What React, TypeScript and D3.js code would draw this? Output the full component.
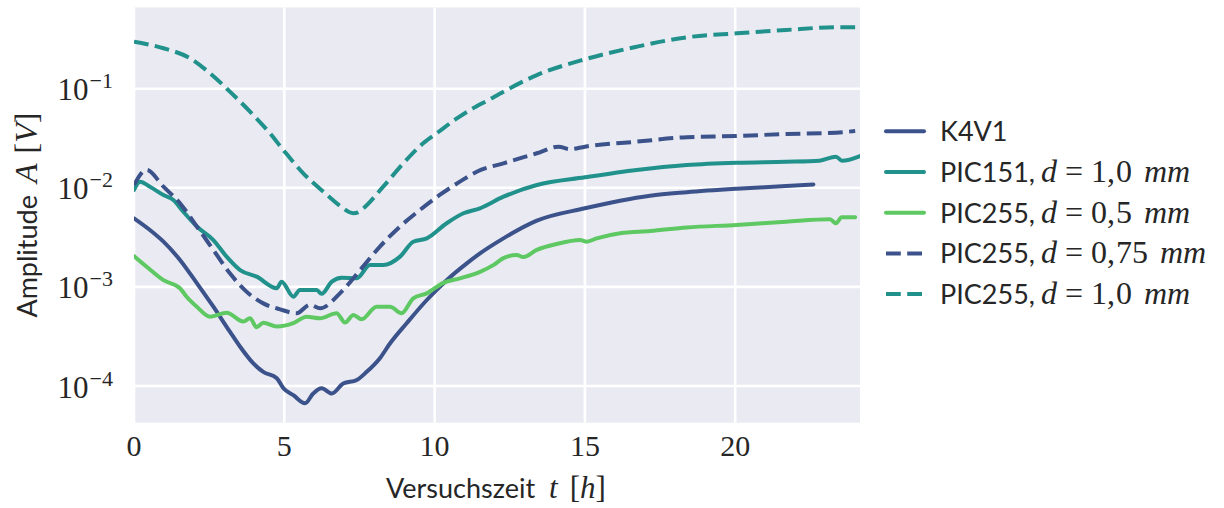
import React from "react";
import * as d3 from "d3";

// ---- data (t in hours, amplitude in V) ----
const k4v1T = [0, 0.53, 0.98, 1.53, 2.09, 2.64, 3.19, 3.53, 3.97, 4.3, 4.75, 4.97, 5.3, 5.69, 5.96, 6.24, 6.58, 6.96, 7.41, 7.74, 8.18, 8.52, 9.07, 9.74, 10.4, 11.07, 11.51, 12.29, 13.4, 15.0, 16.17, 17.17, 18.39, 20.05, 21.69, 22.6];
const k4v1A = [4.92e-3, 3.75e-3, 2.86e-3, 1.87e-3, 1.09e-3, 6.31e-4, 3.53e-4, 2.49e-4, 1.69e-4, 1.39e-4, 1.2e-4, 9.5e-5, 8.1e-5, 6.7e-5, 8.4e-5, 9.5e-5, 8.4e-5, 1.06e-4, 1.15e-4, 1.39e-4, 1.91e-4, 2.7e-4, 4.3e-4, 7.38e-4, 1.17e-3, 1.73e-3, 2.18e-3, 3.09e-3, 4.66e-3, 6.21e-3, 7.41e-3, 8.32e-3, 9.02e-3, 9.77e-3, 1.04e-2, 1.08e-2];

const pic151T = [0, 0.2, 0.53, 0.98, 1.31, 1.64, 2.09, 2.64, 3.08, 3.53, 4.08, 4.75, 4.91, 5.3, 5.52, 6.08, 6.24, 6.58, 6.91, 7.41, 7.85, 8.29, 8.85, 9.29, 9.74, 10.4, 10.96, 11.51, 12.29, 13.4, 15.0, 16.72, 18.39, 20.05, 21.69, 22.8, 23.35, 23.55, 24.15];
const pic151A = [9.51e-3, 1.153e-2, 1.026e-2, 8.45e-3, 7.53e-3, 5.74e-3, 4.07e-3, 2.97e-3, 2.02e-3, 1.48e-3, 1.27e-3, 9.7e-4, 1.13e-3, 7.96e-4, 9.31e-4, 9.31e-4, 8.51e-4, 1.13e-3, 1.24e-3, 1.22e-3, 1.66e-3, 1.66e-3, 2.02e-3, 2.86e-3, 3.09e-3, 4.39e-3, 5.53e-3, 6.21e-3, 8.13e-3, 1.067e-2, 1.276e-2, 1.514e-2, 1.698e-2, 1.791e-2, 1.832e-2, 1.875e-2, 2.06e-2, 1.875e-2, 2.09e-2];

const pic255_05T = [0, 0.42, 0.98, 1.53, 1.75, 2.09, 2.53, 3.08, 3.64, 3.86, 4.08, 4.3, 4.75, 5.3, 5.74, 6.19, 6.74, 7.02, 7.3, 7.57, 8.07, 8.52, 8.9, 9.29, 9.74, 10.29, 10.84, 11.51, 11.95, 12.29, 12.73, 12.95, 13.4, 14.06, 14.84, 15.06, 15.39, 16.17, 17.17, 18.39, 20.05, 21.69, 23.15, 23.35, 23.54, 23.99];
const pic255_05A = [2.05e-3, 1.6e-3, 1.17e-3, 9.7e-4, 7.96e-4, 6.31e-4, 5.01e-4, 5.5e-4, 4.47e-4, 4.82e-4, 3.91e-4, 4.36e-4, 3.98e-4, 4.3e-4, 5.01e-4, 4.82e-4, 5.42e-4, 4.37e-4, 5.21e-4, 4.71e-4, 6.31e-4, 6.31e-4, 5.42e-4, 7.67e-4, 8.61e-4, 1.1e-3, 1.22e-3, 1.42e-3, 1.66e-3, 1.95e-3, 2.1e-3, 2.0e-3, 2.36e-3, 2.71e-3, 2.97e-3, 2.86e-3, 3.09e-3, 3.48e-3, 3.66e-3, 3.98e-3, 4.22e-3, 4.55e-3, 4.81e-3, 4.39e-3, 5.04e-3, 5.04e-3];

const pic255_075T = [0, 0.42, 0.98, 1.53, 2.09, 2.64, 3.19, 3.75, 4.3, 4.86, 5.41, 5.85, 6.19, 6.85, 7.52, 8.18, 8.85, 9.51, 10.18, 10.84, 11.4, 12.29, 13.4, 14.12, 14.5, 15.0, 16.72, 18.39, 20.05, 21.69, 23.35, 23.99];
const pic255_075A = [1.067e-2, 1.514e-2, 1.026e-2, 6.98e-3, 4.07e-3, 2.36e-3, 1.37e-3, 8.91e-4, 6.82e-4, 5.94e-4, 5.42e-4, 6.61e-4, 6.08e-4, 8.61e-4, 1.48e-3, 2.55e-3, 4.07e-3, 5.97e-3, 8.51e-3, 1.153e-2, 1.452e-2, 1.766e-2, 2.23e-2, 2.6e-2, 2.45e-2, 2.6e-2, 2.92e-2, 3.24e-2, 3.33e-2, 3.49e-2, 3.6e-2, 3.74e-2];

const pic255_10T = [0, 0.98, 1.86, 2.53, 3.19, 3.86, 4.52, 4.97, 5.63, 6.3, 6.96, 7.15, 7.3, 7.45, 7.63, 8.29, 8.96, 9.62, 10.07, 10.74, 11.18, 11.79, 12.29, 13.4, 15.0, 16.72, 18.39, 20.05, 21.69, 23.38, 24.15];
const pic255_10A = [0.298, 0.256, 0.203, 0.143, 9.33e-2, 5.86e-2, 3.55e-2, 2.4e-2, 1.4e-2, 9.12e-3, 6.21e-3, 5.7e-3, 5.53e-3, 5.65e-3, 6.21e-3, 1.026e-2, 1.766e-2, 2.81e-2, 3.55e-2, 5.02e-2, 6.1e-2, 7.69e-2, 9.33e-2, 0.137, 0.198, 0.265, 0.33, 0.362, 0.391, 0.417, 0.417];

const xTicks = [0, 5, 10, 15, 20];
const yTickExps = [-1, -2, -3, -4];

const seriesNames = ["K4V1", "PIC151, d = 1,0 mm", "PIC255, d = 0,5 mm", "PIC255, d = 0,75 mm", "PIC255, d = 1,0 mm"];

const C_BLUE = "#3b528b";
const C_TEAL = "#21918c";
const C_GREEN = "#5ec962";

const series = [
  { t: k4v1T, a: k4v1A, color: C_BLUE, dash: false, prefix: "K4V1", d: "" },
  { t: pic151T, a: pic151A, color: C_TEAL, dash: false, prefix: "PIC151,", d: "1,0" },
  { t: pic255_05T, a: pic255_05A, color: C_GREEN, dash: false, prefix: "PIC255,", d: "0,5" },
  { t: pic255_075T, a: pic255_075A, color: C_BLUE, dash: true, prefix: "PIC255,", d: "0,75" },
  { t: pic255_10T, a: pic255_10A, color: C_TEAL, dash: true, prefix: "PIC255,", d: "1,0" },
];

const W = 1224;
const H = 508;
const PL = 134, PR = 860, PT = 7.5, PB = 422.7;

const SANS = "Lato, 'Noto Sans', sans-serif";
const SERIF = "'Liberation Serif', 'DejaVu Serif', serif";
const INK = "#262626";

export default function App() {
  const x = d3.scaleLinear().domain([0, 24.15]).range([PL, PR]);
  const y = d3.scaleLog().domain([Math.pow(10, -4.37), Math.pow(10, -0.181)]).range([PB, PT]);

  const line = d3
    .line<[number, number]>()
    .x((d) => x(d[0]))
    .y((d) => y(d[1]))
    .curve(d3.curveMonotoneX);

  const legendY0 = 131.3;
  const legendStep = 40.7;

  return (
    <svg width={W} height={H} style={{ position: "absolute", left: 0, top: 0, background: "#fff" }}>
      <defs>
        <clipPath id="plotclip">
          <rect x={PL} y={PT} width={PR - PL} height={PB - PT} />
        </clipPath>
      </defs>
      <rect x={PL} y={PT} width={PR - PL} height={PB - PT} fill="#eaeaf2" />
      {xTicks.map((t) => (
        <line key={"gx" + t} x1={x(t)} x2={x(t)} y1={PT} y2={PB} stroke="#fff" strokeWidth={2.6} />
      ))}
      {yTickExps.map((e) => (
        <line key={"gy" + e} x1={PL} x2={PR} y1={y(Math.pow(10, e))} y2={y(Math.pow(10, e))} stroke="#fff" strokeWidth={2.6} />
      ))}
      <g clipPath="url(#plotclip)">
        {series.map((s, i) => (
          <path
            key={i}
            d={line(s.t.map((t, j) => [t, s.a[j]] as [number, number])) || ""}
            fill="none"
            stroke={s.color}
            strokeWidth={4}
            strokeDasharray={s.dash ? "14.8 6.4" : undefined}
            strokeLinejoin="round"
            strokeLinecap={s.dash ? "butt" : "round"}
          />
        ))}
      </g>
      {xTicks.map((t) => (
        <text key={"tx" + t} x={x(t)} y={456} textAnchor="middle" fontFamily={SERIF} fontSize={30} fill={INK}>
          {t}
        </text>
      ))}
      {yTickExps.map((e) => (
        <text key={"ty" + e} x={113} y={y(Math.pow(10, e)) + 11.5} textAnchor="end" fontFamily={SERIF} fill={INK}>
          <tspan fontSize={31}>10</tspan>
          <tspan fontSize={22} dy={-12} dx={1}>{"\u2212" + Math.abs(e)}</tspan>
        </text>
      ))}
      <text x={496} y={498} textAnchor="middle" fill={INK} style={{ whiteSpace: "pre" }}>
        <tspan fontFamily={SANS} fontSize={27}>Versuchszeit</tspan>
        <tspan fontFamily={SERIF} fontSize={31} fontStyle="italic" dx={14}>t</tspan>
        <tspan fontFamily={SERIF} fontSize={31} dx={12}>[</tspan>
        <tspan fontFamily={SERIF} fontSize={31} fontStyle="italic">h</tspan>
        <tspan fontFamily={SERIF} fontSize={31}>]</tspan>
      </text>
      <text transform={`translate(37,${(PT + PB) / 2}) rotate(-90)`} textAnchor="middle" fill={INK} style={{ whiteSpace: "pre" }}>
        <tspan fontFamily={SANS} fontSize={27}>Amplitude</tspan>
        <tspan fontFamily={SERIF} fontSize={32} fontStyle="italic" dx={12}>A</tspan>
        <tspan fontFamily={SERIF} fontSize={32} dx={10}>[</tspan>
        <tspan fontFamily={SERIF} fontSize={32} fontStyle="italic">V</tspan>
        <tspan fontFamily={SERIF} fontSize={32}>]</tspan>
      </text>
      {series.map((s, i) => {
        const ly = legendY0 + i * legendStep;
        return (
          <g key={"lg" + i} aria-label={seriesNames[i]}>
            <line
              x1={886}
              x2={924}
              y1={ly}
              y2={ly}
              stroke={s.color}
              strokeWidth={4}
              strokeDasharray={s.dash ? "14.8 6.4" : undefined}
              strokeLinecap={s.dash ? "butt" : "round"}
            />
            <text x={940} y={ly + 10} fill={INK} style={{ whiteSpace: "pre" }}>
              <tspan fontFamily={SANS} fontSize={27}>{s.prefix}</tspan>
              {s.d ? (
                <>
                  <tspan fontFamily={SERIF} fontSize={32} fontStyle="italic" dx={6}>d</tspan>
                  <tspan fontFamily={SERIF} fontSize={32} dx={8}>=</tspan>
                  <tspan fontFamily={SERIF} fontSize={32} dx={8}>{s.d.split(",")[0] + ","}</tspan>
                  <tspan fontFamily={SERIF} fontSize={32} dx={1}>{s.d.split(",")[1]}</tspan>
                  <tspan fontFamily={SERIF} fontSize={32} fontStyle="italic" dx={12}>mm</tspan>
                </>
              ) : null}
            </text>
          </g>
        );
      })}
    </svg>
  );
}
